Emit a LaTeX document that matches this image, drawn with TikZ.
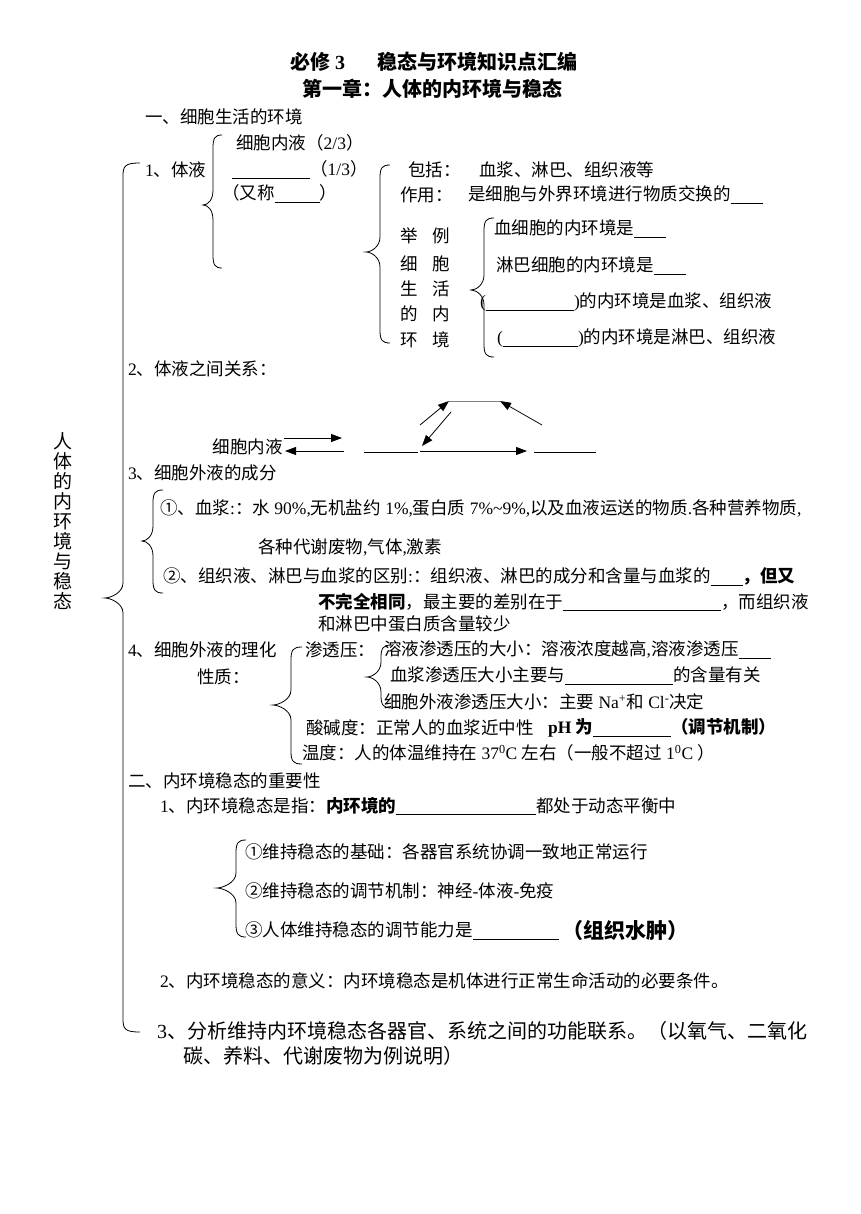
\documentclass[tikz,border=0pt]{standalone}
\usepackage{fontspec}
\usetikzlibrary{arrows.meta}
\setmainfont{Liberation Serif}
\newfontfamily\cjk{Noto Sans CJK SC}
\XeTeXinterchartokenstate=1
\makeatletter
\count@="3000 \loop \XeTeXcharclass\count@=7 \advance\count@ 1 \ifnum\count@<"3040 \repeat
\count@="4E00 \loop \XeTeXcharclass\count@=7 \advance\count@ 1 \ifnum\count@<"A000 \repeat
\count@="FF00 \loop \XeTeXcharclass\count@=7 \advance\count@ 1 \ifnum\count@<"FFF0 \repeat
\count@="2460 \loop \XeTeXcharclass\count@=7 \advance\count@ 1 \ifnum\count@<"2500 \repeat
\makeatother
\XeTeXinterchartoks 0 7 = {\cjk}
\XeTeXinterchartoks 4095 7 = {\cjk}
\XeTeXinterchartoks 7 0 = {\rmfamily}
\XeTeXinterchartoks 7 4095 = {\rmfamily}
\newcommand\blnk[1]{\rule[-3pt]{#1}{0.7pt}}
% hook x, line x, tip x, top y, tip y, bottom y
\newcommand\cbrace[6]{%
  \draw[brc] (#1,#4) .. controls ({#2+2},#4) and (#2,{#4+3}) .. (#2,{#4+13})
    -- (#2,{#5-15}) .. controls (#2,{#5-5}) and ({#3+5},#5) .. (#3,#5)
    .. controls ({#3+5},#5) and (#2,{#5+5}) .. (#2,{#5+15})
    -- (#2,{#6-13}) .. controls (#2,{#6-3}) and ({#2+2},#6) .. (#1,#6);}
\tikzset{
  txt/.style={anchor=west, inner sep=0pt, font=\fontsize{17.5}{21}\selectfont},
  ttl/.style={anchor=west, inner sep=0pt, font=\fontsize{20}{24}\selectfont\bfseries},
  big/.style={anchor=west, inner sep=0pt, font=\fontsize{20}{24}\selectfont},
  brc/.style={line width=0.8pt},
  arr/.style={line width=0.8pt, -{Triangle[length=11pt,width=8pt]}}
}
\begin{document}
\begin{tikzpicture}[x=1pt,y=-1pt]
\fill[white] (0,0) rectangle (860,1214);
\useasboundingbox (0,0) rectangle (860,1214);
% titles
\node[ttl] (t1a) at (290,62) {必修 3};
\node[ttl] (t1b) at (377,62) {稳态与环境知识点汇编};
\node[ttl] (t2) at (302,89) {第一章：人体的内环境与稳态};
\node[txt] (s1) at (145,117) {一、细胞生活的环境};
% big brace and vertical title
\cbrace{140}{123}{105}{163}{598}{1032}
\node[font=\fontsize{19}{20}\selectfont, align=center, inner sep=0pt] (vt) at (63,521)
  {人\\体\\的\\内\\环\\境\\与\\稳\\态};
% 1 体液
\node[txt] (a1) at (236,143) {细胞内液（2/3）};
\node[txt] (ty) at (145,170) {1、体液};
\node[txt] (a2) at (232,170) {\blnk{78pt}（1/3）};
\node[txt] (a3) at (222,194) {（又称\blnk{45pt}）};
\cbrace{222}{213}{203}{135}{205}{268}
\cbrace{390}{380}{366}{165}{252}{343}
\node[txt] (bk1) at (408,170) {包括：};
\node[txt] (bk2) at (479,170) {血浆、淋巴、组织液等};
\node[txt] (zy1) at (400,195) {作用：};
\node[txt] (zy2) at (468,195) {是细胞与外界环境进行物质交换的\blnk{32pt}};
\node[txt] (v1a) at (400,236) {举}; \node[txt] (v1b) at (432,236) {例};
\node[txt] (v2a) at (400,264) {细}; \node[txt] (v2b) at (432,264) {胞};
\node[txt] (v3a) at (400,289) {生}; \node[txt] (v3b) at (432,289) {活};
\node[txt] (v4a) at (400,314) {的}; \node[txt] (v4b) at (432,314) {内};
\node[txt] (v5a) at (400,340) {环}; \node[txt] (v5b) at (432,340) {境};
\cbrace{494}{484}{471}{218}{290}{357}
\node[txt] (e1) at (494,229) {血细胞的内环境是\blnk{32pt}};
\node[txt] (e2) at (496,266) {淋巴细胞的内环境是\blnk{32pt}};
\node[txt] (e3) at (480,302) {(\blnk{88pt})的内环境是血浆、组织液};
\node[txt] (e4) at (497,338) {(\blnk{75pt})的内环境是淋巴、组织液};
% 2 relations
\node[txt] (s2) at (128,369) {2、体液之间关系：};
\node[txt, anchor=east] (cnl) at (283,447) {细胞内液};
\node[txt] (bl1) at (364,451) {\blnk{54pt}};
\node[txt] (bl2) at (534,451) {\blnk{62pt}};
\coordinate (p1) at (284,438); \coordinate (p2) at (342,438);
\coordinate (p3) at (344,451); \coordinate (p4) at (285,451);
\coordinate (p5) at (420,451); \coordinate (p6) at (527,451);
\coordinate (q1) at (420,425); \coordinate (q2) at (449,401);
\coordinate (q3) at (500,401); \coordinate (q4) at (542,425);
\coordinate (q5) at (451,412); \coordinate (q6) at (422,446);
\draw[arr] (p1) -- (p2);
\draw[arr] (p3) -- (p4);
\draw[arr] (p5) -- (p6);
\draw[arr] (q1) -- (q2);
\draw[line width=0.8pt, gray] (q2) -- (q3);
\draw[arr] (q4) -- (q3);
\draw[arr] (q5) -- (q6);
% 3
\node[txt] (s3) at (128,473) {3、细胞外液的成分};
\cbrace{163}{153}{142}{490}{541}{593}
\node[txt] (c1) at (160,508) {①、血浆:：水 90\%,无机盐约 1\%,蛋白质 7\%\textasciitilde 9\%,以及血液运送的物质.各种营养物质,};
\node[txt] (c1b) at (258,547) {各种代谢废物,气体,激素};
\node[txt] (c2) at (163,577) {②、组织液、淋巴与血浆的区别:：组织液、淋巴的成分和含量与血浆的\blnk{32pt}\textbf{，但又}};
\node[txt] (c2b) at (318,602) {\textbf{不完全相同}，最主要的差别在于\blnk{158pt}，而组织液};
\node[txt] (c2c) at (318,624) {和淋巴中蛋白质含量较少};
% 4
\node[txt] (s4) at (128,650) {4、细胞外液的理化};
\node[txt] (s4b) at (197,677) {性质：};
\cbrace{302}{291}{273}{647}{705}{764}
\node[txt] (d0) at (305,650) {渗透压：};
\cbrace{392}{381}{367}{645}{677}{708}
\node[txt] (d1) at (384,650) {溶液渗透压的大小：溶液浓度越高,溶液渗透压\blnk{32pt}};
\node[txt] (d2) at (390,676) {血浆渗透压大小主要与\blnk{108pt}的含量有关};
\node[txt] (d3) at (384,702) {细胞外液渗透压大小：主要 Na\textsuperscript{+}和 Cl\textsuperscript{-}决定};
\node[txt] (d4) at (306,728) {酸碱度：正常人的血浆近中性};
\node[txt] (d4b) at (548,728) {\textbf{pH 为\blnk{78pt}（调节机制）}};
\node[txt] (d5) at (302,753) {温度：人的体温维持在 37\textsuperscript{0}C 左右（一般不超过 1\textsuperscript{0}C ）};
% 二
\node[txt] (s5) at (128,781) {二、内环境稳态的重要性};
\node[txt] (f1) at (160,806) {1、内环境稳态是指：\textbf{内环境的}\blnk{140pt}都处于动态平衡中};
\cbrace{246}{236}{217}{840}{888}{937}
\node[txt] (g1) at (245,852) {①维持稳态的基础：各器官系统协调一致地正常运行};
\node[txt] (g2) at (245,891) {②维持稳态的调节机制：神经-体液-免疫};
\node[txt] (g3) at (245,931) {③人体维持稳态的调节能力是\blnk{86pt}};
\node[anchor=west, inner sep=0pt, font=\fontsize{21}{24}\selectfont\bfseries] (g3b) at (562,931) {（组织水肿）};
\node[txt] (h2) at (160,981) {2、内环境稳态的意义：内环境稳态是机体进行正常生命活动的必要条件。};
\node[big] (h3) at (157,1031) {3、分析维持内环境稳态各器官、系统之间的功能联系。（以氧气、二氧化};
\node[big] (h3b) at (183,1056) {碳、养料、代谢废物为例说明）};
\end{tikzpicture}
\end{document}
